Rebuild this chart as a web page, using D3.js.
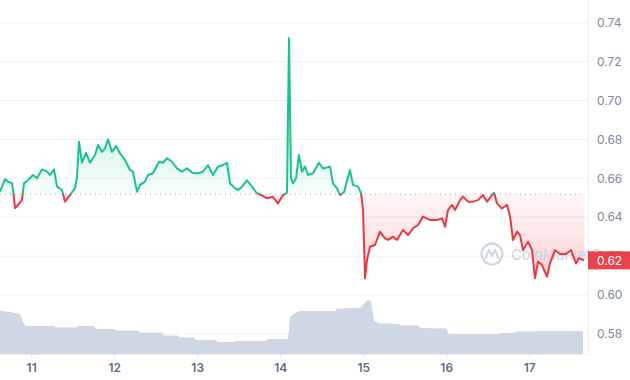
<!DOCTYPE html>
<html><head><meta charset="utf-8">
<script src="https://cdn.jsdelivr.net/npm/d3@7"></script>
<style>body{margin:0;background:#fff}svg{display:block;font-family:Inter,"Noto Sans",sans-serif}</style>
</head><body><svg id="c" width="630" height="380"></svg>
<script>
const priceTime=[10.618,10.678,10.714,10.763,10.775,10.799,10.835,10.883,10.907,10.955,11.016,11.064,11.124,11.184,11.220,11.269,11.305,11.365,11.401,11.461,11.522,11.546,11.570,11.606,11.654,11.702,11.763,11.799,11.847,11.883,11.919,11.967,12.016,12.064,12.124,12.184,12.220,12.269,12.305,12.365,12.401,12.461,12.534,12.582,12.630,12.690,12.751,12.811,12.871,12.943,13.004,13.064,13.124,13.184,13.245,13.305,13.353,13.389,13.449,13.486,13.534,13.594,13.654,13.714,13.775,13.835,13.907,13.967,14.028,14.076,14.100,14.124,14.149,14.185,14.220,14.257,14.293,14.329,14.389,14.461,14.510,14.594,14.630,14.678,14.716,14.764,14.800,14.835,14.871,14.932,14.968,14.992,15.016,15.040,15.076,15.136,15.196,15.257,15.293,15.353,15.401,15.473,15.534,15.594,15.654,15.714,15.799,15.883,15.943,15.980,16.016,16.064,16.100,16.161,16.196,16.257,16.317,16.377,16.437,16.486,16.546,16.570,16.606,16.666,16.727,16.763,16.799,16.847,16.883,16.919,16.980,17.028,17.064,17.100,17.148,17.208,17.245,17.305,17.365,17.438,17.498,17.558,17.595,17.655];
const priceValue=[0.6531,0.6595,0.6583,0.6574,0.654,0.6447,0.6463,0.6488,0.6574,0.659,0.6617,0.660,0.6646,0.6634,0.6617,0.6646,0.6557,0.654,0.648,0.6514,0.6549,0.6608,0.6788,0.668,0.6731,0.668,0.672,0.6771,0.6736,0.6754,0.680,0.6736,0.6766,0.6728,0.6694,0.6643,0.6634,0.6531,0.6566,0.6583,0.6617,0.6626,0.6685,0.668,0.6703,0.6685,0.6651,0.6634,0.6651,0.6626,0.6626,0.6634,0.6668,0.6617,0.666,0.6668,0.668,0.6574,0.6549,0.654,0.6557,0.659,0.6557,0.6523,0.6512,0.6497,0.6505,0.6471,0.6514,0.6526,0.732,0.660,0.6574,0.660,0.672,0.6634,0.666,0.6617,0.6626,0.668,0.665,0.666,0.6574,0.6548,0.6514,0.653,0.659,0.6642,0.6566,0.6557,0.6523,0.6437,0.6086,0.618,0.6248,0.6257,0.6325,0.6291,0.6283,0.630,0.6283,0.6334,0.6308,0.6343,0.636,0.6403,0.6386,0.6386,0.6394,0.6351,0.6437,0.6463,0.6437,0.6488,0.6506,0.648,0.648,0.6488,0.6514,0.648,0.6514,0.6526,0.6471,0.6445,0.6463,0.6403,0.6283,0.6325,0.6308,0.623,0.6274,0.623,0.6086,0.6171,0.6154,0.6094,0.6163,0.623,0.6211,0.6211,0.623,0.6162,0.619,0.6178];
const volTime=[10.618,10.751,10.859,10.895,10.931,11.269,11.293,11.534,11.558,11.751,11.775,11.992,12.016,12.281,12.305,12.570,12.594,12.763,12.787,12.955,12.980,13.220,13.245,13.437,13.461,13.822,13.847,14.088,14.112,14.172,14.233,14.654,14.678,14.955,15.004,15.040,15.088,15.124,15.172,15.413,15.449,15.654,15.690,15.992,16.028,16.618,16.654,16.811,16.847,17.064,17.100,17.642];
const volValue=[43,42,40,32,28,28,26.5,26.5,28,28,25,25,23.5,23.5,21.5,21.5,18.5,18.5,16.5,16.5,14,14,12,12,13,13,15,15,37,41,43,43,45.5,46,50,54,53,34,31,30,28.5,28.5,26,25.5,20,20,21,21,22.5,22.5,23,23];
const yTicks=[0.58,0.60,0.62,0.64,0.66,0.68,0.70,0.72,0.74];
const xTicks=[11,12,13,14,15,16,17];
const baseline=0.6519;
const lastPrice="0.62";

const svg=d3.select("#c");
const W=588, B=354;
const x=d3.scaleLinear().domain([11,17]).range([31.7,529.7]);
const y=d3.scaleLinear().domain([0.58,0.74]).range([333.9,22.7]);
const yv=d3.scaleLinear().domain([0,100]).range([B,B-100]);
const GREEN="#16c784", RED="#ea3943";

const defs=svg.append("defs");
defs.append("clipPath").attr("id","above").append("rect").attr("x",0).attr("y",0).attr("width",W).attr("height",y(baseline));
defs.append("clipPath").attr("id","below").append("rect").attr("x",0).attr("y",y(baseline)).attr("width",W).attr("height",B-y(baseline));
const gg=defs.append("linearGradient").attr("id","gg").attr("gradientUnits","userSpaceOnUse").attr("x1",0).attr("x2",0).attr("y1",y(0.68)).attr("y2",y(baseline));
gg.append("stop").attr("offset",0).attr("stop-color",GREEN).attr("stop-opacity",0.16);
gg.append("stop").attr("offset",1).attr("stop-color",GREEN).attr("stop-opacity",0.03);
const rg=defs.append("linearGradient").attr("id","rg").attr("gradientUnits","userSpaceOnUse").attr("x1",0).attr("x2",0).attr("y1",y(baseline)).attr("y2",y(0.61));
rg.append("stop").attr("offset",0).attr("stop-color",RED).attr("stop-opacity",0.04);
rg.append("stop").attr("offset",1).attr("stop-color",RED).attr("stop-opacity",0.22);

// grid
svg.append("g").selectAll("line").data(yTicks).join("line")
  .attr("x1",0).attr("x2",W).attr("y1",d=>y(d)).attr("y2",d=>y(d))
  .attr("stroke","#eff2f5").attr("stroke-width",1);
svg.append("line").attr("x1",W+0.5).attr("x2",W+0.5).attr("y1",0).attr("y2",B).attr("stroke","#eff2f5");
svg.append("line").attr("x1",0).attr("x2",W).attr("y1",B+0.5).attr("y2",B+0.5).attr("stroke","#eff2f5");

// volume
const pts=priceTime.map((t,i)=>({t,v:priceValue[i]}));
const vpts=volTime.map((t,i)=>({t,v:volValue[i]}));
svg.append("path").datum(vpts).attr("fill","#cfd6e4")
  .attr("d",d3.area().x(d=>x(d.t)).y0(B).y1(d=>yv(d.v)));

// areas
const ar=d3.area().x(d=>x(d.t)).y0(y(baseline)).y1(d=>y(d.v));
svg.append("path").datum(pts).attr("clip-path","url(#above)").attr("fill","url(#gg)").attr("d",ar);
svg.append("path").datum(pts).attr("clip-path","url(#below)").attr("fill","url(#rg)").attr("d",ar);

// watermark
const wm=svg.append("g").attr("opacity",0.8);
wm.append("circle").attr("cx",492).attr("cy",254).attr("r",10.5).attr("fill","none").attr("stroke","#c9d0dd").attr("stroke-width",2.4);
wm.append("path").attr("d","M485,259 L489,250 L492,256 L495,250 L499,259").attr("fill","none").attr("stroke","#c9d0dd").attr("stroke-width",2.2).attr("stroke-linejoin","round");
wm.append("text").attr("x",511).attr("y",259.5).attr("font-size",15).attr("font-weight",500).attr("fill","#c9d0dd").attr("textLength",108).text("CoinMarketCap");

// baseline dotted
svg.append("line").attr("x1",0).attr("x2",x(priceTime[priceTime.length-1])).attr("y1",y(baseline)).attr("y2",y(baseline))
  .attr("stroke","#9aa3b4").attr("stroke-width",1).attr("stroke-dasharray","1,4");

// lines
const ln=d3.line().x(d=>x(d.t)).y(d=>y(d.v));
svg.append("path").datum(pts).attr("clip-path","url(#above)").attr("fill","none").attr("stroke",GREEN).attr("stroke-width",2).attr("stroke-linejoin","round").attr("d",ln);
svg.append("path").datum(pts).attr("clip-path","url(#below)").attr("fill","none").attr("stroke",RED).attr("stroke-width",2).attr("stroke-linejoin","round").attr("d",ln);

// y axis labels
svg.append("g").selectAll("text").data(yTicks).join("text")
  .attr("x",597).attr("y",d=>y(d)).attr("dy","0.35em").attr("font-size",12).attr("fill","#808a9d").text(d=>d.toFixed(2));

// x axis
svg.append("g").selectAll("line").data(xTicks).join("line")
  .attr("x1",d=>x(d)).attr("x2",d=>x(d)).attr("y1",B).attr("y2",B+4).attr("stroke","#e3e7ee");
svg.append("g").selectAll("text").data(xTicks).join("text")
  .attr("x",d=>x(d)).attr("y",368).attr("dy","0.35em").attr("text-anchor","middle").attr("font-size",12).attr("font-weight",600).attr("fill","#616e85").text(d=>d);

// last price tag
svg.append("rect").attr("x",W).attr("y",y(0.6178)-9).attr("width",630-W).attr("height",18).attr("fill",RED).attr("fill-opacity",0.95);
svg.append("text").attr("x",597).attr("y",y(0.6178)).attr("dy","0.35em").attr("font-size",12).attr("fill","#fff").text(lastPrice);
</script></body></html>
